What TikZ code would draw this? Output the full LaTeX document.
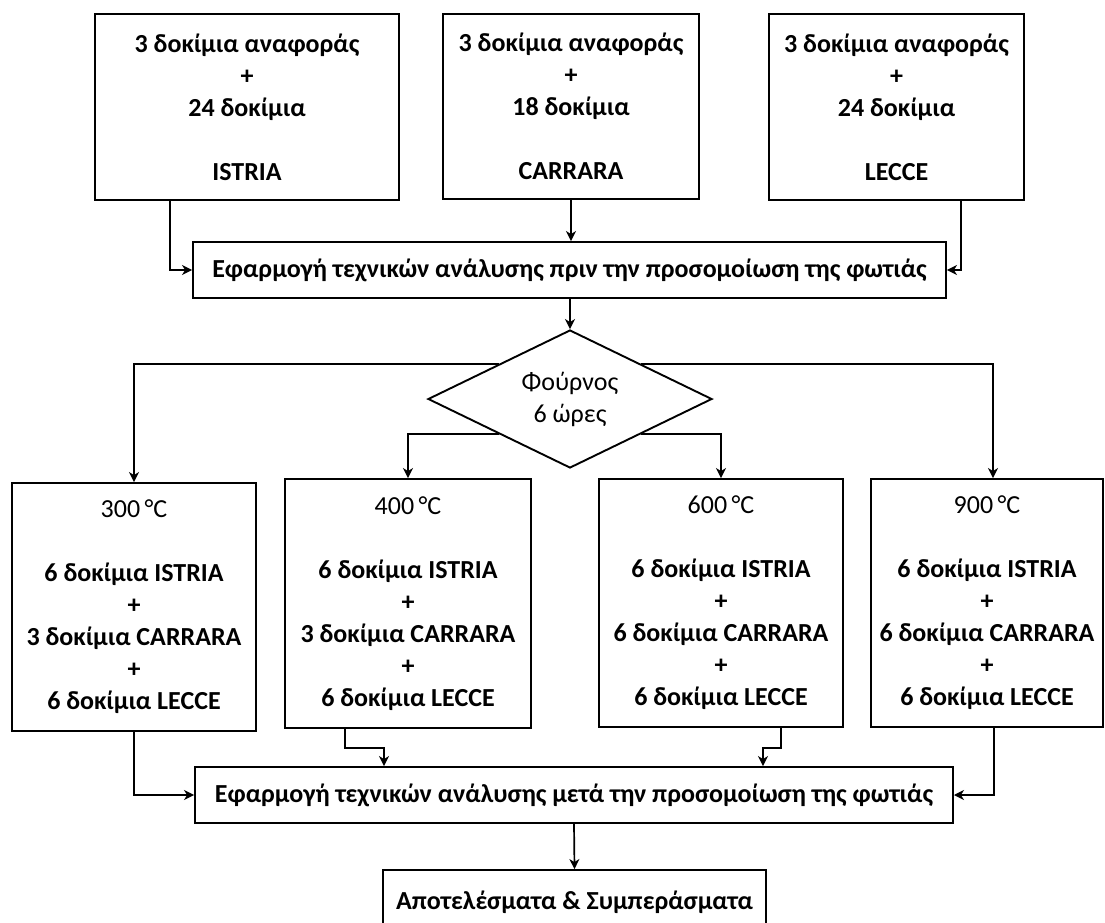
\documentclass[tikz,border=0pt]{standalone}
\usepackage{fontspec}
\setmainfont{Carlito}
\usetikzlibrary{shapes.geometric,arrows.meta}
\begin{document}
\begin{tikzpicture}[x=1pt,y=-1pt,
  box/.style={draw,line width=1.9pt,inner sep=0pt,align=center,font=\fontsize{26}{32}\selectfont\bfseries},
  arr/.style={line width=1.7pt,-{Stealth[length=10pt,width=10pt,inset=3pt]}},
  every node/.style={text=black}]
\useasboundingbox[fill=white] (0,0) rectangle (1105,922);
% top
\node[box,minimum width=304pt,minimum height=186pt] (istria) at (247,107)
  {3 δοκίμια αναφοράς\\+\\24 δοκίμια\\[32pt]ISTRIA};
\node[box,minimum width=256pt,minimum height=185pt] (carrara) at (571,106.5)
  {3 δοκίμια αναφοράς\\+\\18 δοκίμια\\[32pt]CARRARA};
\node[box,minimum width=255pt,minimum height=186pt] (lecce) at (896.5,107)
  {3 δοκίμια αναφοράς\\+\\24 δοκίμια\\[32pt]LECCE};
\node[box,minimum width=753pt,minimum height=56pt] (pre) at (569.5,270)
  {Εφαρμογή τεχνικών ανάλυσης πριν την προσομοίωση της φωτιάς};
\node[draw,diamond,aspect=2.06,line width=1.9pt,inner sep=0pt,align=center,
  minimum width=284pt,minimum height=138pt,font=\fontsize{26}{32}\selectfont] (oven) at (570,399)
  {Φούρνος\\6 ώρες};
% temperature boxes
\node[box,minimum width=244pt,minimum height=248pt] (b300) at (134,607)
  {\mdseries 300\,°C\\[32pt]6 δοκίμια ISTRIA\\+\\3 δοκίμια CARRARA\\+\\6 δοκίμια LECCE};
\node[box,minimum width=246pt,minimum height=249pt] (b400) at (408,603.5)
  {\mdseries 400\,°C\\[32pt]6 δοκίμια ISTRIA\\+\\3 δοκίμια CARRARA\\+\\6 δοκίμια LECCE};
\node[box,minimum width=244pt,minimum height=248pt] (b600) at (721,603)
  {\mdseries 600\,°C\\[32pt]6 δοκίμια ISTRIA\\+\\6 δοκίμια CARRARA\\+\\6 δοκίμια LECCE};
\node[box,minimum width=232pt,minimum height=248pt] (b900) at (987,603)
  {\mdseries 900\,°C\\[32pt]6 δοκίμια ISTRIA\\+\\6 δοκίμια CARRARA\\+\\6 δοκίμια LECCE};
\node[box,minimum width=758pt,minimum height=56pt] (post) at (574,795)
  {Εφαρμογή τεχνικών ανάλυσης μετά την προσομοίωση της φωτιάς};
\node[box,minimum width=383pt,minimum height=64pt] (final) at (574.5,902)
  {Αποτελέσματα \& Συμπεράσματα};
% connectors
\draw[arr] ([xshift=76pt]istria.south west) |- (pre.west);
\draw[arr] (carrara.south) -- (carrara.south |- pre.north);
\draw[arr] ([xshift=-64pt]lecce.south east) |- (pre.east);
\draw[arr] (oven.north |- pre.south) -- (oven.north);
\draw[arr] (oven.north west) -| (b300.north);
\draw[arr] (oven.north east) -| ([xshift=6pt]b900.north);
\draw[arr] (oven.south west) -| (b400.north);
\draw[arr] (oven.south east) -| (b600.north);
\draw[arr] (b300.south) |- (post.west);
\draw[arr] ([xshift=-63pt]b400.south) -- ++(0,19) -| ([xshift=-190pt]post.north);
\draw[arr] ([xshift=60pt]b600.south) -- ++(0,20) -| ([xshift=189pt]post.north);
\draw[arr] ([xshift=7pt]b900.south) |- (post.east);
\draw[arr] (post.south) -- (final.north);
\end{tikzpicture}
\end{document}
